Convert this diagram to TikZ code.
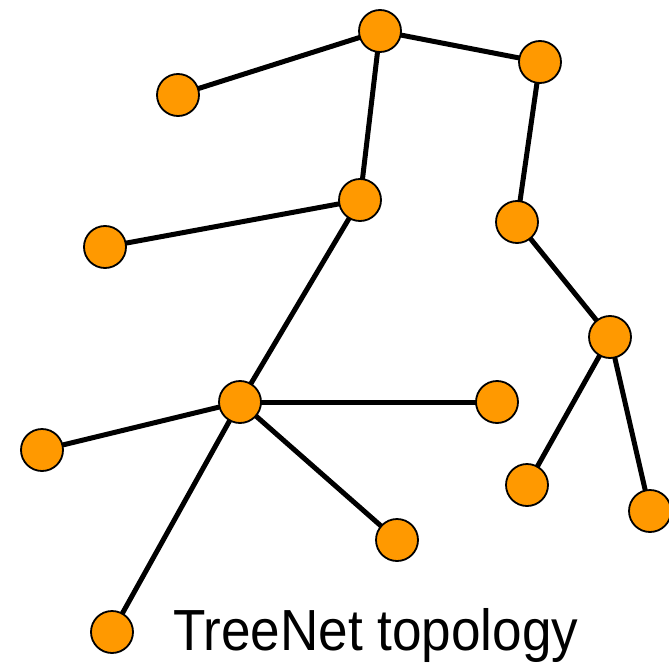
\documentclass[tikz,border=0pt]{standalone}
\usepackage{fontspec}
\setmainfont{Liberation Sans}
\definecolor{nodeorange}{HTML}{FF9900}
\begin{document}
\begin{tikzpicture}[x=1pt,y=-1pt,
  vertex/.style={circle,draw=black,line width=1.8pt,fill=nodeorange,minimum size=42pt,inner sep=0pt},
  link/.style={line width=5pt,black}]
\useasboundingbox (0,0) rectangle (669,666);
\fill[white] (0,0) rectangle (669,666);
% vertex positions
\coordinate (pA) at (380,31);
\coordinate (pB) at (540,62);
\coordinate (pC) at (178,95);
\coordinate (pD) at (360,200);
\coordinate (pE) at (517,222);
\coordinate (pF) at (105,247);
\coordinate (pG) at (610,337);
\coordinate (pH) at (240,402);
\coordinate (pI) at (497,402);
\coordinate (pJ) at (42,450);
\coordinate (pK) at (527,485);
\coordinate (pL) at (650,511);
\coordinate (pM) at (397,540);
\coordinate (pN) at (112,632);
% links
\draw[link] (pC) -- (pA) -- (pB) -- (pE) -- (pG) -- (pK);
\draw[link] (pG) -- (pL);
\draw[link] (pA) -- (pD) -- (pF);
\draw[link] (pD) -- (pH);
\draw[link] (pH) -- (pI);
\draw[link] (pH) -- (pJ);
\draw[link] (pH) -- (pM);
\draw[link] (pH) -- (pN);
% vertices
\foreach \v in {A,B,C,D,E,F,G,H,I,J,K,L,M,N}
  \node[vertex] (\v) at (p\v) {};
% caption
\node[anchor=base west,inner sep=0pt,xscale=0.915,font=\fontsize{58}{60}\selectfont] (title) at (173,650) {TreeNet topology};
\end{tikzpicture}
\end{document}
